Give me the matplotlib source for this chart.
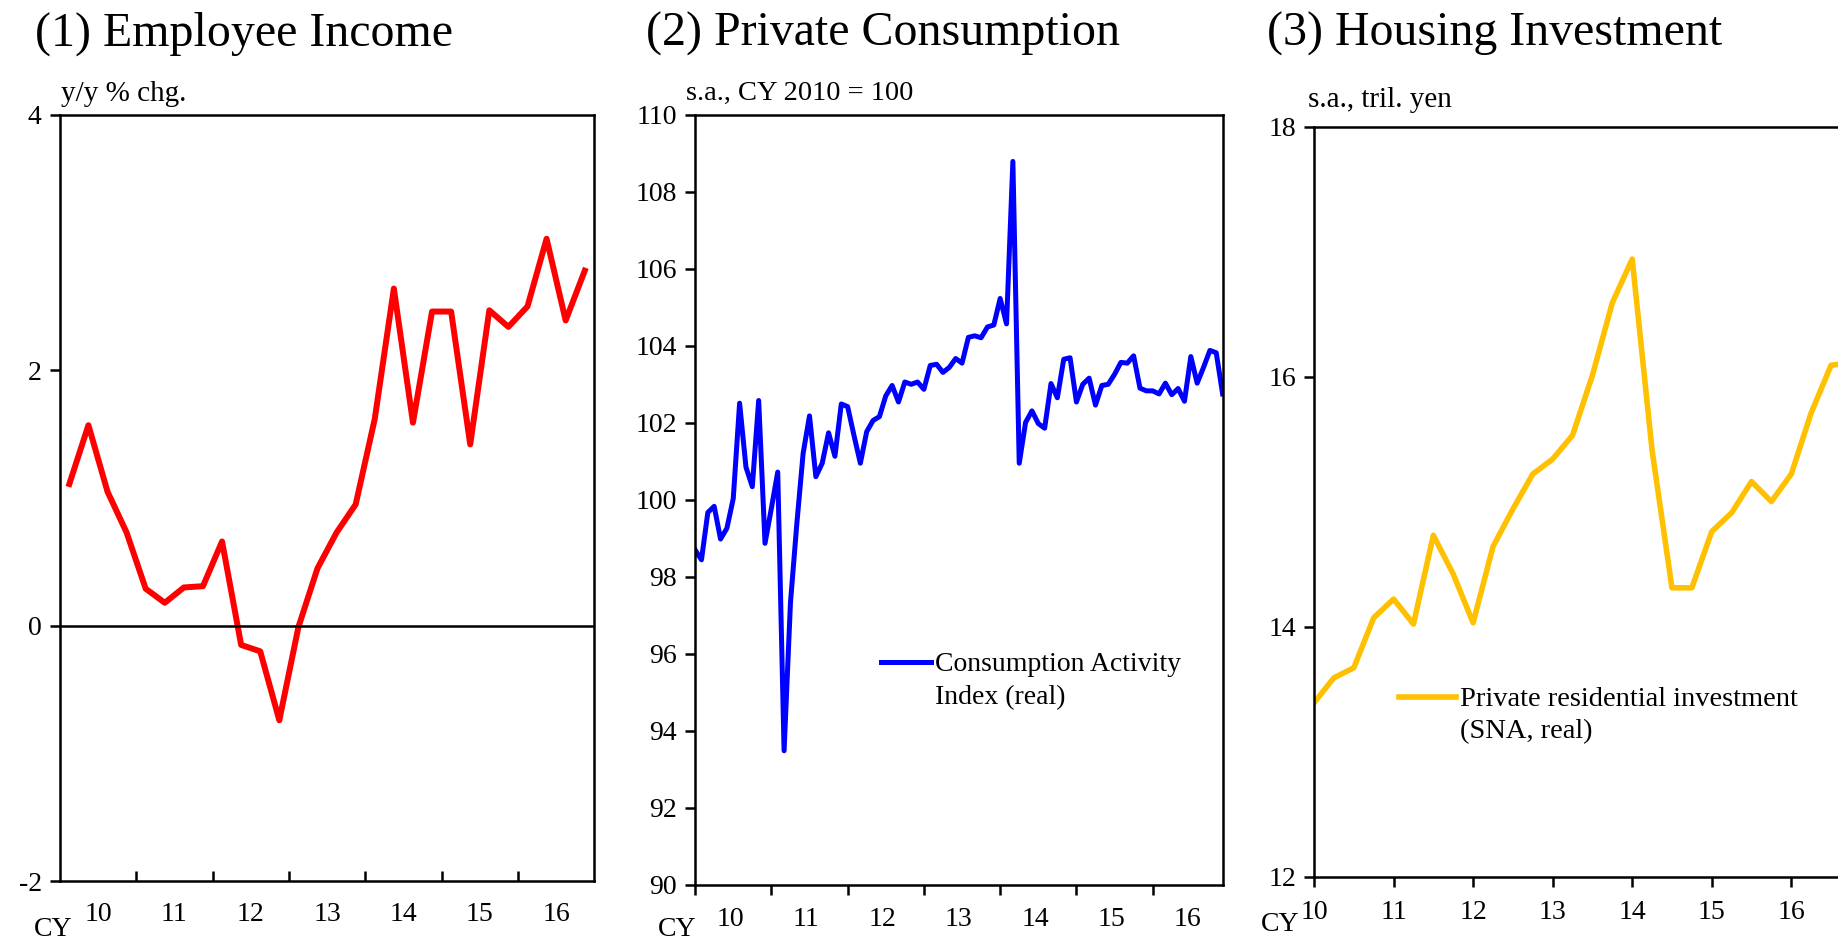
import matplotlib
matplotlib.use("Agg")
import matplotlib.pyplot as plt
import numpy as np

plt.rcParams['font.family'] = ['Liberation Serif', 'DejaVu Serif']
plt.rcParams['axes.unicode_minus'] = False

# (1) Employee income, y/y % chg., quarterly 2010Q1 - 2016Q4
income = [1.11, 1.57, 1.05, 0.73, 0.29, 0.18, 0.30, 0.31, 0.66, -0.15, -0.20, -0.74,
          -0.01, 0.45, 0.73, 0.95, 1.62, 2.64, 1.59, 2.46, 2.46, 1.42, 2.47, 2.34,
          2.50, 3.03, 2.39, 2.78]

# (2) Consumption Activity Index (real), monthly Jan 2010 - Dec 2016
consumption = [98.70, 98.44, 99.67, 99.83, 98.98, 99.26, 100.03, 102.51, 100.85, 100.34, 102.58, 98.87,
               99.78, 100.72, 93.48, 97.32, 99.37, 101.21, 102.18, 100.60, 100.95, 101.74, 101.13, 102.49,
               102.42, 101.67, 100.95, 101.77, 102.06, 102.16, 102.70, 102.97, 102.54, 103.06, 103.00, 103.06,
               102.87, 103.49, 103.52, 103.31, 103.44, 103.67, 103.55, 104.22, 104.26, 104.21, 104.49, 104.54,
               105.23, 104.57, 108.79, 100.95, 102.01, 102.31, 101.98, 101.86, 103.02, 102.65, 103.65, 103.69,
               102.54, 103.00, 103.16, 102.46, 102.97, 103.00, 103.26, 103.57, 103.55, 103.74, 102.90, 102.83,
               102.83, 102.75, 103.03, 102.73, 102.89, 102.56, 103.72, 103.03, 103.44, 103.88, 103.82, 102.75]

# (3) Private residential investment (SNA, real), tril. yen, quarterly
housing = [13.39, 13.59, 13.67, 14.07, 14.22, 14.02, 14.73, 14.42, 14.03, 14.64, 14.94, 15.22,
           15.34, 15.53, 16.01, 16.59, 16.94, 15.41, 14.31, 14.31, 14.76, 14.91, 15.16, 15.00,
           15.22, 15.71, 16.09, 16.11]

years = ['10', '11', '12', '13', '14', '15', '16']

W, H = 1568, 803


def box(l, r, t, b):
    return [l / W, 1 - b / H, (r - l) / W, (b - t) / H]


def fix_legend(leg):
    # put the legend line next to the first text line, like the original
    for t in leg.get_texts():
        t.set_linespacing(1.4)
    for ln in leg.get_lines():
        ln.set_ydata(np.full(len(ln.get_xdata()), 20.5))


fig = plt.figure(figsize=(18.38, 9.41), dpi=100)

ax1 = fig.add_axes(box(51, 507, 98, 752))
ax2 = fig.add_axes(box(593, 1043, 98, 755))
ax3 = fig.add_axes(box(1121, 1596, 108, 748))

for ax in (ax1, ax2, ax3):
    for s in ax.spines.values():
        s.set_linewidth(1.8)
    ax.tick_params(axis='y', direction='out', length=7, width=1.8, labelsize=20, pad=6)

# panel 1
q = np.arange(len(income)) + 0.5
ax1.plot(q, income, color='#FF0000', lw=4.3)
ax1.axhline(0, color='black', lw=1.8)
ax1.set_xlim(0, 28)
ax1.set_ylim(-2, 4)
ax1.set_yticks([-2, 0, 2, 4])
ax1.set_xticks(np.arange(4, 28, 4))
ax1.set_xticklabels([])
ax1.set_xticks(np.arange(2, 28, 4), minor=True)
ax1.set_xticklabels(years, minor=True)
ax1.tick_params(axis='x', which='major', direction='in', length=7, width=1.8)
ax1.tick_params(axis='x', which='minor', length=0, labelsize=20, pad=15)

# panel 2
m = np.arange(len(consumption))
ax2.plot(m, consumption, color='#0000FF', lw=3.6, label='Consumption Activity\nIndex (real)')
ax2.set_xlim(0, 83)
ax2.set_ylim(90, 110)
ax2.set_yticks(np.arange(90, 111, 2))
ax2.set_xticks(np.arange(0, 84, 12))
ax2.set_xticklabels([])
ax2.set_xticks(np.arange(5.5, 84, 12), minor=True)
ax2.set_xticklabels(years, minor=True)
ax2.tick_params(axis='x', which='major', direction='out', length=7, width=1.8)
ax2.tick_params(axis='x', which='minor', length=0, labelsize=20, pad=16)
leg2 = ax2.legend(loc='upper left', bbox_to_anchor=(0.353, 0.302), frameon=False, fontsize=20,
                  handlelength=1.8, handletextpad=0.15, borderpad=0, borderaxespad=0)
fix_legend(leg2)

# panel 3
hq = np.arange(len(housing))
ax3.plot(hq, housing, color='#FFC000', lw=4.0,
         label='Private residential investment\n(SNA, real)')
ax3.set_xlim(0, 28)
ax3.set_ylim(12, 18)
ax3.set_yticks([12, 14, 16, 18])
ax3.set_xticks(np.arange(0, 28, 4))
ax3.set_xticklabels(years)
ax3.tick_params(axis='x', direction='out', length=7, width=1.8, labelsize=20, pad=10)
leg3 = ax3.legend(loc='upper left', bbox_to_anchor=(0.152, 0.253), frameon=False, fontsize=20.5,
                  handlelength=2.0, handletextpad=0.15, borderpad=0, borderaxespad=0)
fix_legend(leg3)

# titles and unit labels
fig.text(30 / W, 1 - 29 / H, '(1) Employee Income', fontsize=34.5, va='center', ha='left')
fig.text(551 / W, 1 - 29 / H, '(2) Private Consumption', fontsize=34.5, va='center', ha='left')
fig.text(1081 / W, 1 - 29 / H, '(3) Housing Investment', fontsize=34.5, va='center', ha='left')

fig.text(52 / W, 1 - 80 / H, 'y/y % chg.', fontsize=21, va='center', ha='left')
fig.text(585 / W, 1 - 80 / H, 's.a., CY 2010 = 100', fontsize=20.5, va='center', ha='left')
fig.text(1116 / W, 1 - 85 / H, 's.a., tril. yen', fontsize=21, va='center', ha='left')

fig.text(45 / W, 1 - 793 / H, 'CY', fontsize=20, va='center', ha='center')
fig.text(578 / W, 1 - 793 / H, 'CY', fontsize=20, va='center', ha='center')
fig.text(1092 / W, 1 - 789 / H, 'CY', fontsize=20, va='center', ha='center')

fig.savefig('out.png', dpi=100)
